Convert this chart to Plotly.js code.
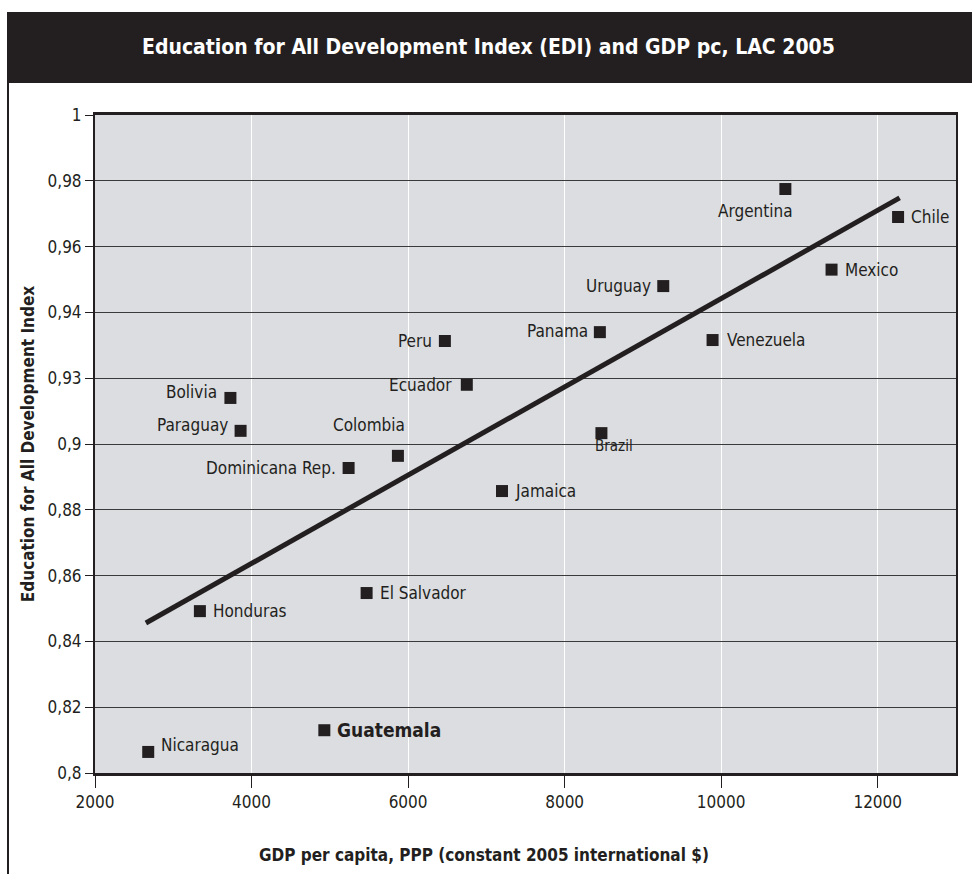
<!DOCTYPE html>
<html>
<head>
<meta charset="utf-8">
<script src="https://cdn.plot.ly/plotly-3.0.1.min.js"></script>
<style>
  html, body { margin: 0; padding: 0; background: #ffffff; }
  #chart { width: 972px; height: 874px; }
</style>
</head>
<body>
<div id="chart"></div>
<script>
// ---- Data ----
const countries = ["Argentina", "Chile", "Mexico", "Uruguay", "Panama", "Venezuela", "Peru", "Ecuador",
  "Bolivia", "Paraguay", "Brazil", "Colombia", "Dominicana Rep.", "Jamaica", "El Salvador", "Honduras",
  "Guatemala", "Nicaragua"];
const gdpPc = [10820, 12260, 11410, 9260, 8450, 9890, 6470, 6750,
  3730, 3860, 8470, 5870, 5240, 7200, 5470, 3340,
  4930, 2680];
const edi = [0.9775, 0.969, 0.953, 0.948, 0.934, 0.9316, 0.9313, 0.918,
  0.914, 0.904, 0.9033, 0.8964, 0.8927, 0.8857, 0.8547, 0.8492,
  0.813, 0.8064];
const trendX = [2650, 12280];
const trendY = [0.8456, 0.9748];
const xTickVals = [2000, 4000, 6000, 8000, 10000, 12000];
const yTickVals = [0.8, 0.82, 0.84, 0.86, 0.88, 0.9, 0.92, 0.94, 0.96, 0.98, 1];
const yTickText = ["0,8", "0,82", "0,84", "0,86", "0,88", "0,9", "0,93", "0,94", "0,96", "0,98", "1"];

// ---- Label placement (style, not data) ----
const labelStyle = {
  "Argentina":       {xanchor: "center", yanchor: "top",    xshift: -30, yshift: -10},
  "Chile":           {xanchor: "left",   yanchor: "middle", xshift: 11,  yshift: 0},
  "Mexico":          {xanchor: "left",   yanchor: "middle", xshift: 11,  yshift: 0},
  "Uruguay":         {xanchor: "right",  yanchor: "middle", xshift: -10, yshift: 0},
  "Panama":          {xanchor: "right",  yanchor: "middle", xshift: -10, yshift: 1},
  "Venezuela":       {xanchor: "left",   yanchor: "middle", xshift: 12,  yshift: 0},
  "Peru":            {xanchor: "right",  yanchor: "middle", xshift: -11, yshift: 0},
  "Ecuador":         {xanchor: "right",  yanchor: "middle", xshift: -13, yshift: 0},
  "Bolivia":         {xanchor: "right",  yanchor: "middle", xshift: -11, yshift: 6},
  "Paraguay":        {xanchor: "right",  yanchor: "middle", xshift: -11, yshift: 6},
  "Brazil":          {xanchor: "center", yanchor: "middle", xshift: 13,  yshift: -13, size: 15},
  "Colombia":        {xanchor: "center", yanchor: "middle", xshift: -29, yshift: 31},
  "Dominicana Rep.": {xanchor: "right",  yanchor: "middle", xshift: -11, yshift: 0},
  "Jamaica":         {xanchor: "left",   yanchor: "middle", xshift: 11,  yshift: 0},
  "El Salvador":     {xanchor: "left",   yanchor: "middle", xshift: 11,  yshift: 0},
  "Honduras":        {xanchor: "left",   yanchor: "middle", xshift: 11,  yshift: 0},
  "Guatemala":       {xanchor: "left",   yanchor: "middle", xshift: 11,  yshift: 0, bold: true, size: 19},
  "Nicaragua":       {xanchor: "left",   yanchor: "middle", xshift: 11,  yshift: 7}
};

const FONT = "'Liberation Sans Narrow', 'DejaVu Sans Condensed', 'Liberation Sans', Arial, sans-serif";
const INK = "#231f20";

const annotations = countries.map((c, i) => {
  const s = labelStyle[c];
  return {
    x: gdpPc[i], y: edi[i], xref: "x", yref: "y",
    text: s.bold ? "<b>" + c + "</b>" : c,
    showarrow: false,
    xanchor: s.xanchor, yanchor: s.yanchor,
    xshift: s.xshift, yshift: s.yshift,
    font: {family: FONT, size: s.size || 17, color: INK}
  };
});

// Title bar text
annotations.push({
  xref: "paper", yref: "paper", x: (488 - 95) / 861, y: (773 - 47) / 658,
  xanchor: "center", yanchor: "middle", showarrow: false,
  text: "<b>Education for All Development Index (EDI) and GDP pc, LAC 2005</b>",
  font: {family: FONT, size: 21, color: "#ffffff"}
});
// X axis title (offset left of plot centre as in the reference)
annotations.push({
  xref: "paper", yref: "paper", x: (484 - 95) / 861, y: (773 - 855) / 658,
  xanchor: "center", yanchor: "middle", showarrow: false,
  text: "<b>GDP per capita, PPP (constant 2005 international $)</b>",
  font: {family: FONT, size: 17, color: INK}
});

const traces = [
  {
    x: trendX, y: trendY, type: "scatter", mode: "lines",
    line: {color: INK, width: 5}, hoverinfo: "skip", showlegend: false
  },
  {
    x: gdpPc, y: edi, text: countries, type: "scatter", mode: "markers",
    marker: {symbol: "square", size: 12, color: INK}, showlegend: false
  }
];

const layout = {
  width: 972, height: 874,
  margin: {l: 95, r: 16, t: 115, b: 101},
  paper_bgcolor: "#ffffff",
  plot_bgcolor: "#dcdde0",
  font: {family: FONT, color: INK},
  xaxis: {
    range: [2000, 13000],
    tickvals: xTickVals, ticktext: xTickVals.map(String),
    ticks: "outside", ticklen: 12, tickwidth: 1, tickcolor: INK,
    tickfont: {family: FONT, size: 17, color: INK},
    showgrid: true, gridcolor: "#ffffff", gridwidth: 1,
    zeroline: false,
    showline: true, linecolor: INK, linewidth: 3, mirror: true
  },
  yaxis: {
    range: [0.8, 1],
    tickvals: yTickVals, ticktext: yTickText,
    ticks: "outside", ticklen: 8, tickwidth: 1, tickcolor: INK,
    tickfont: {family: FONT, size: 17, color: INK},
    showgrid: true, gridcolor: "#3a3a3a", gridwidth: 1,
    zeroline: false,
    showline: true, linecolor: INK, linewidth: 2, mirror: true,
    title: {text: "<b>Education for All Development Index</b>",
            font: {family: FONT, size: 17, color: INK}, standoff: 9}
  },
  shapes: [
    // black title bar
    {type: "rect", xref: "paper", yref: "paper",
     x0: (7 - 95) / 861, x1: (972 - 95) / 861, y0: (773 - 83) / 658, y1: (773 - 12) / 658,
     fillcolor: INK, line: {width: 0}, layer: "below"},
    // left frame line
    {type: "line", xref: "paper", yref: "paper",
     x0: (8 - 95) / 861, x1: (8 - 95) / 861, y0: (773 - 83) / 658, y1: (773 - 880) / 658,
     line: {color: INK, width: 2}}
  ],
  annotations: annotations
};

Plotly.newPlot("chart", traces, layout, {displayModeBar: false, staticPlot: true});
</script>
</body>
</html>
